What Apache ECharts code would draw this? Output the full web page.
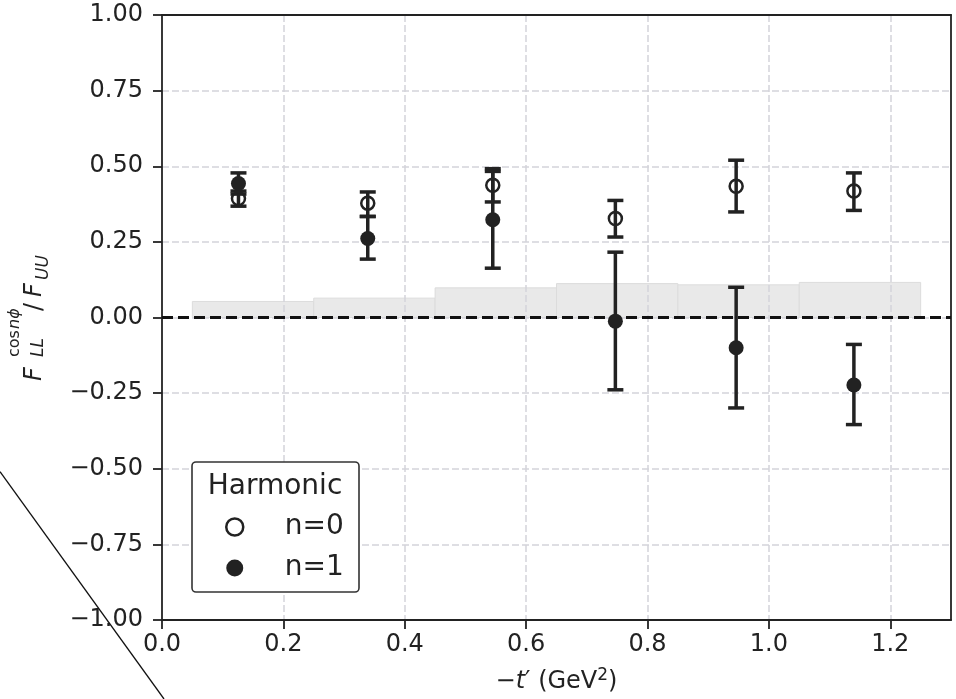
<!DOCTYPE html>
<html><head><meta charset="utf-8">
<script src="https://cdn.jsdelivr.net/npm/echarts@6/dist/echarts.min.js"></script>
<style>html,body{margin:0;padding:0;background:#fff}#c{width:956px;height:699px}</style>
</head><body><div id="c"></div>
<script>
// ---- data ----
const tPrime   = [0.126, 0.339, 0.545, 0.747, 0.946, 1.140];
const n0Value  = [0.393, 0.378, 0.437, 0.327, 0.434, 0.418];
const n0Low    = [0.368, 0.334, 0.382, 0.266, 0.349, 0.354];
const n0High   = [0.418, 0.415, 0.492, 0.387, 0.520, 0.478];
const n1Value  = [0.443, 0.261, 0.323, -0.012, -0.100, -0.223];
const n1Low    = [0.408, 0.193, 0.163, -0.239, -0.299, -0.354];
const n1High   = [0.478, 0.334, 0.483, 0.216, 0.100, -0.089];
const sysBinLow  = [0.05, 0.25, 0.45, 0.65, 0.85, 1.05];
const sysBinHigh = [0.25, 0.45, 0.65, 0.85, 1.05, 1.25];
const sysHeight  = [0.053, 0.064, 0.098, 0.112, 0.108, 0.116];
const zeroLevel = 0;
const xTickLabels = ['0.0', '0.2', '0.4', '0.6', '0.8', '1.0', '1.2'];
const yTickLabels = ['\u22121.00', '\u22120.75', '\u22120.50', '\u22120.25', '0.00', '0.25', '0.50', '0.75', '1.00'];
const seriesNames = ['n=0', 'n=1'];
const legendTitle = 'Harmonic';

const FONT = 'DejaVu Sans';
const INK = '#222';

const chart = echarts.init(document.getElementById('c'), null, {renderer: 'canvas'});

function errRender(params, api) {
  const x = api.value(0), lo = api.value(1), hi = api.value(2);
  const a = api.coord([x, lo]), b = api.coord([x, hi]);
  const cw = 8;
  const st = {stroke: INK, lineWidth: 3.5, fill: null};
  return {type: 'group', children: [
    {type: 'line', shape: {x1: a[0], y1: a[1], x2: b[0], y2: b[1]}, style: st},
    {type: 'line', shape: {x1: a[0] - cw, y1: a[1], x2: a[0] + cw, y2: a[1]}, style: st},
    {type: 'line', shape: {x1: b[0] - cw, y1: b[1], x2: b[0] + cw, y2: b[1]}, style: st}
  ]};
}
function bandRender(params, api) {
  const p0 = api.coord([api.value(0), zeroLevel]);
  const p1 = api.coord([api.value(1), api.value(2)]);
  return {type: 'rect', shape: {x: p0[0], y: p1[1], width: p1[0] - p0[0], height: p0[1] - p1[1]},
          style: {fill: '#e9e9e9', stroke: '#dcdcdc', lineWidth: 1}};
}

const bandData = sysBinLow.map((v, i) => [v, sysBinHigh[i], sysHeight[i]]);
const n0Err = tPrime.map((x, i) => [x, n0Low[i], n0High[i]]);
const n1Err = tPrime.map((x, i) => [x, n1Low[i], n1High[i]]);
const n0Pts = tPrime.map((x, i) => [x, n0Value[i]]);
const n1Pts = tPrime.map((x, i) => [x, n1Value[i]]);

// y-axis label pieces (rotated group)
function t(text, x, baseline, fs, italic) {
  return {type: 'text', x: x, y: baseline - 0.35 * fs,
    style: {text: text, fontFamily: FONT, fontSize: fs, fontStyle: italic ? 'italic' : 'normal',
            fill: INK, align: 'left', verticalAlign: 'middle'}};
}

const gridLine = {show: true, showMinLine: false, showMaxLine: false, lineStyle: {color: '#d4d4da', width: 1.5, type: [7, 3]}};
const spine = {show: true, onZero: false, lineStyle: {color: INK, width: 1.8}};

const option = {
  animation: false,
  backgroundColor: '#fff',
  grid: {left: 162, top: 15, right: 5, bottom: 79, containLabel: false, outerBoundsMode: 'none'},
  xAxis: [{
    type: 'value', min: 0, max: 1.3, interval: 0.2, position: 'bottom',
    name: '\u2212{it|t}\u2032 (GeV{sup|2})', nameLocation: 'middle', nameGap: 47,
    nameTextStyle: {fontFamily: FONT, fontSize: 24, color: INK,
      rich: {it: {fontFamily: FONT, fontSize: 24, fontStyle: 'italic', color: INK},
             sup: {fontFamily: FONT, fontSize: 17, color: INK, padding: [0, 0, 12, 0]}}},
    axisLine: spine,
    axisTick: {show: true, length: 9, lineStyle: {color: INK, width: 1.8}},
    axisLabel: {fontFamily: FONT, fontSize: 24, color: INK, margin: 13, showMaxLabel: false,
      formatter: v => { const i = Math.round(v / 0.2); return (Math.abs(v - i * 0.2) < 1e-6 && i < xTickLabels.length) ? xTickLabels[i] : ''; }},
    splitLine: gridLine
  }, {
    type: 'value', min: 0, max: 1.3, interval: 0.2, position: 'top',
    axisLine: spine, axisTick: {show: false}, axisLabel: {show: false}, splitLine: {show: false}
  }],
  yAxis: [{
    type: 'value', min: -1, max: 1, interval: 0.25, position: 'left',
    axisLine: spine,
    axisTick: {show: true, length: 9, lineStyle: {color: INK, width: 1.8}},
    axisLabel: {fontFamily: FONT, fontSize: 24, color: INK, margin: 19,
      formatter: v => yTickLabels[Math.round((v + 1) / 0.25)] || ''},
    splitLine: gridLine
  }, {
    type: 'value', min: -1, max: 1, interval: 0.25, position: 'right',
    axisLine: spine, axisTick: {show: false}, axisLabel: {show: false}, splitLine: {show: false}
  }],
  legend: {
    orient: 'vertical', left: 225, top: 513, padding: 0, itemGap: 13, itemWidth: 90, itemHeight: 17,
    selectedMode: false, z: 20,
    textStyle: {fontFamily: FONT, fontSize: 28, color: INK, lineHeight: 28},
    data: [
      {name: seriesNames[0], icon: 'circle', itemStyle: {color: 'rgba(0,0,0,0)', borderColor: INK, borderWidth: 2.5}},
      {name: seriesNames[1], icon: 'circle', itemStyle: {color: INK, borderWidth: 0}}
    ]
  },
  graphic: [
    {type: 'rect', z: 15, shape: {x: 192, y: 462, width: 167, height: 130, r: 4},
     style: {fill: '#fff', stroke: '#333', lineWidth: 1.6}},
    {type: 'text', z: 21, x: 275, y: 487,
     style: {text: legendTitle, fontFamily: FONT, fontSize: 28, fill: INK, align: 'center', verticalAlign: 'middle'}},
    {type: 'line', z: 30, shape: {x1: 0, y1: 471.7, x2: 164, y2: 699},
     style: {stroke: '#111', lineWidth: 1.3}},
    {type: 'group', x: 43, y: 381, rotation: Math.PI / 2, z: 10, children: [
      t('F', 0, 0, 24, true),
      t('cos', 24, -23, 16, false),
      t('n\u03d5', 52, -23, 16, true),
      t('LL', 24, 2, 17, true),
      t('/', 70, 0, 24, false),
      t('F', 84, 0, 24, true),
      t('UU', 101, 7, 17, true)
    ]}
  ],
  series: [
    {type: 'custom', name: 'sys', z: -1, renderItem: bandRender, data: bandData,
     encode: {x: [0, 1], y: 2}, silent: true},
    {type: 'line', name: 'zero', data: [], z: 3, silent: true,
     markLine: {silent: true, symbol: 'none', label: {show: false},
       lineStyle: {color: '#111', width: 3, type: [11, 5]},
       data: [{yAxis: zeroLevel}]}},
    {type: 'custom', name: 'n=0 err', z: 4, renderItem: errRender, data: n0Err, encode: {x: 0, y: [1, 2]}, silent: true},
    {type: 'custom', name: 'n=1 err', z: 4, renderItem: errRender, data: n1Err, encode: {x: 0, y: [1, 2]}, silent: true},
    {type: 'scatter', name: seriesNames[0], z: 5, data: n0Pts, symbol: 'circle', symbolSize: 13,
     itemStyle: {color: 'rgba(0,0,0,0)', borderColor: INK, borderWidth: 2.5, opacity: 1}},
    {type: 'scatter', name: seriesNames[1], z: 6, data: n1Pts, symbol: 'circle', symbolSize: 15,
     itemStyle: {color: INK, opacity: 1}}
  ]
};
chart.setOption(option);
</script>
</body></html>
